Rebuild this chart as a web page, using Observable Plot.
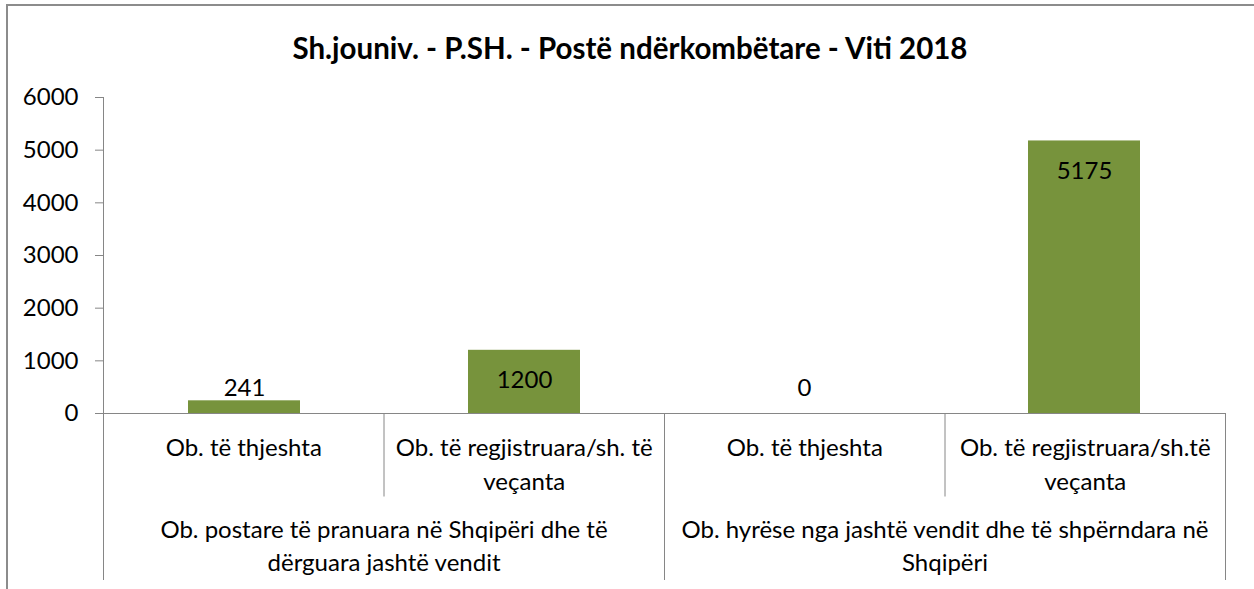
<!DOCTYPE html>
<html>
<head>
<meta charset="utf-8">
<script src="https://cdn.jsdelivr.net/npm/d3@7"></script>
<script src="https://cdn.jsdelivr.net/npm/@observablehq/plot@0.6"></script>
<style>
  html, body { margin: 0; padding: 0; background: #fff; }
  #wrap { position: relative; width: 1254px; height: 589px; overflow: hidden; font-family: Lato, sans-serif; }
  #frameTop { position: absolute; left: 6px; top: 4px; width: 1248px; height: 0; border-top: 2px solid #8c8c8c; }
  #frameLeft { position: absolute; left: 6px; top: 4px; width: 0; height: 585px; border-left: 2px solid #8c8c8c; }
  #title { position: absolute; left: 6px; width: 1248px; top: 32px; line-height: 32px; text-align: center;
           font-weight: bold; font-size: 29.5px; color: #000; }
  #main, #cats { position: absolute; left: 0; }
  #main { top: 0; }
  #cats { top: 413px; }
</style>
</head>
<body>
<div id="wrap">
  <div id="frameTop"></div>
  <div id="frameLeft"></div>
  <div id="title"></div>
  <div id="main"></div>
  <div id="cats"></div>
</div>
<script>
// ---- data ----
const title = "Sh.jouniv. - P.SH. - Postë ndërkombëtare - Viti 2018";
const groups = [
  "Ob. postare të pranuara në Shqipëri dhe të\ndërguara jashtë vendit",
  "Ob. hyrëse nga jashtë vendit dhe të shpërndara në\nShqipëri"
];
const subcats = [
  "Ob. të thjeshta",
  "Ob. të regjistruara/sh. të\nveçanta",
  "Ob. të thjeshta",
  "Ob. të regjistruara/sh.të\nveçanta"
];
const groupOf = [0, 0, 1, 1];
const values = [241, 1200, 0, 5175];
const yTicks = [0, 1000, 2000, 3000, 4000, 5000, 6000];

// ---- derived table ----
const table = subcats.map((s, i) => ({key: i + "|" + s, sub: s, group: groupOf[i], value: values[i], i}));
const keys = table.map(d => d.key);
const n = keys.length;
const minPositive = d3.min(values.filter(v => v > 0));

const W = 1254, ML = 103, MR = 29;
const FONT = "Lato, sans-serif";
const FS = 24;
const AXIS = "#868686";
const GREEN = "#77933C";

document.getElementById("title").textContent = title;

const main = Plot.plot({
  width: W, height: 420,
  marginLeft: ML, marginRight: MR, marginTop: 97, marginBottom: 7,
  style: {fontFamily: FONT, background: "transparent", overflow: "visible", color: "#000"},
  x: {type: "band", domain: keys, paddingInner: 0.6, paddingOuter: 0.3, axis: null},
  y: {domain: [0, 6000], axis: null},
  marks: [
    Plot.barY(table, {x: "key", y: "value", fill: GREEN}),
    Plot.frame({anchor: "left", stroke: AXIS}),
    Plot.axisY({ticks: yTicks, tickSize: 8, tickPadding: 17, stroke: AXIS, fill: "#000",
                fontSize: FS, tickFormat: d => String(d), label: null}),
    Plot.ruleY([0], {stroke: AXIS}),
    // labels inside the bar end for tall bars
    Plot.text(table.filter(d => d.value > 1000), {x: "key", y: "value", text: d => String(d.value),
      dy: 30, fontSize: FS, fill: "#000"}),
    // labels outside the bar end for short bars
    Plot.text(table.filter(d => d.value <= 1000), {x: "key", y: d => Math.max(d.value, minPositive),
      text: d => String(d.value), dy: -12, fontSize: FS, fill: "#000"})
  ]
});
document.getElementById("main").appendChild(main);

// category table under the axis
const bounds = d3.range(n + 1).map(b => ({
  x: b,
  depth: (b === 0 || b === n || groupOf[b] !== groupOf[b - 1]) ? 2 : 1
}));
const groupSpans = groups.map((g, gi) => {
  const idx = d3.range(n).filter(i => groupOf[i] === gi);
  return {label: g, mid: (d3.min(idx) + d3.max(idx) + 1) / 2};
});

const cats = Plot.plot({
  width: W, height: 176,
  marginLeft: ML, marginRight: MR, marginTop: 0, marginBottom: 9,
  style: {fontFamily: FONT, background: "transparent", overflow: "visible", color: "#000"},
  x: {domain: [0, n], axis: null},
  y: {domain: [0, 2], reverse: true, axis: null},
  marks: [
    Plot.ruleX(bounds, {x: "x", y1: 0, y2: "depth", stroke: AXIS}),
    Plot.text(table, {x: d => d.i + 0.5, y: 0, text: "sub", lineAnchor: "top", dy: 18,
      lineHeight: 1.42, fontSize: FS, fill: "#000"}),
    Plot.text(groupSpans, {x: "mid", y: 1, text: "label", lineAnchor: "top", dy: 17,
      lineHeight: 1.38, fontSize: FS, fill: "#000"})
  ]
});
document.getElementById("cats").appendChild(cats);
</script>
</body>
</html>
